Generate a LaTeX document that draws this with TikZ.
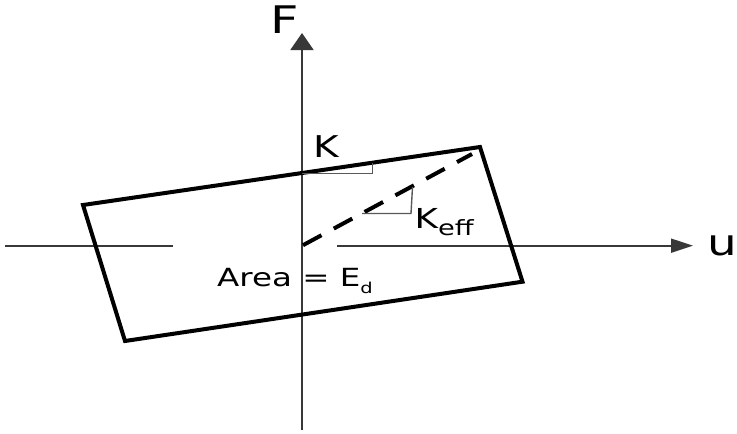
\documentclass[tikz,border=0pt]{standalone}
\usepackage{fontspec}
\setmainfont{DejaVu Sans}[FakeStretch=1.3]
\usetikzlibrary{arrows.meta}
\begin{document}
\begin{tikzpicture}[x=1pt,y=-1pt,
  axis/.style={line width=2pt,draw=black!78},
  frame/.style={line width=4pt,line join=miter},
  slope/.style={line width=1.4pt,draw=black!65},
  lab/.style={inner sep=0pt,anchor=base west}]
\useasboundingbox (0,0) rectangle (737,434);
% coordinates
\coordinate (O) at (302,245.7);
\coordinate (Dstart) at (303,245.2);
\coordinate (uL) at (5,245.7);
\coordinate (gapL) at (173,245.7);
\coordinate (gapR) at (337,245.7);
\coordinate (uTip) at (693,245.7);
\coordinate (Fbot) at (302,430);
\coordinate (FTip) at (302,33);
\coordinate (P1) at (83,205);
\coordinate (P2) at (480,147);
\coordinate (P3) at (522.5,281.7);
\coordinate (P4) at (125,341);
\coordinate (Dend) at (472,154);
\coordinate (K1) at (302,173.3);
\coordinate (K2) at (372.7,173.3);
\coordinate (K3) at (372.7,162.7);
\coordinate (E1) at (362,213.5);
\coordinate (E2) at (411,213.5);
\coordinate (E3) at (412.5,187);
% axes
\draw[axis] (uL) -- (gapL);
\draw[axis,-{Triangle[length=22pt,width=14pt]}] (gapR) -- (uTip);
\draw[axis,-{Triangle[length=17pt,width=23pt]}] (Fbot) -- (FTip);
% loop
\draw[frame] (P1) -- (P2) -- (P3) -- (P4) -- cycle;
% effective stiffness
\draw[line width=4pt,dash pattern=on 21pt off 14pt] (Dstart) -- (Dend);
% slope triangles
\draw[slope] (K1) -- (K2) -- (K3);
\draw[slope] (E1) -- (E2) -- (E3);
% labels
\node[lab,font=\fontsize{38}{40}\selectfont] (F) at (270,33) {F};
\node[lab,font=\fontsize{36}{38}\selectfont] (u) at (707.5,255) {u};
\node[lab,font=\fontsize{30}{32}\selectfont] (K) at (313,157) {K};
\node[lab,font=\fontsize{27.5}{30}\selectfont] (Keff) at (414.5,228) {K\raisebox{-7pt}{\fontsize{21}{22}\selectfont eff}};
\node[lab,font=\fontsize{25}{27}\selectfont] (area) at (217,286) {Area = E\raisebox{-7pt}{\fontsize{15}{16}\selectfont d}};
\end{tikzpicture}
\end{document}
